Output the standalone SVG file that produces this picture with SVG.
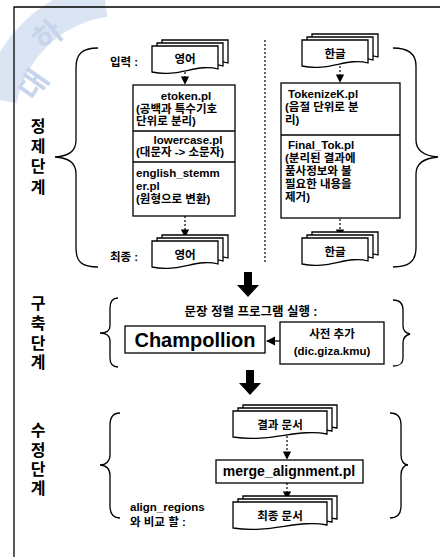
<svg xmlns="http://www.w3.org/2000/svg" width="440" height="559" viewBox="0 0 440 559">
<style>
.t{font-family:"Liberation Sans","Noto Sans CJK KR",sans-serif;font-weight:bold;font-size:11.5px;fill:#000}
.c{text-anchor:middle}
.big{font-size:16px}
.s12{font-size:11.5px}
.s13{font-size:12.5px}
.s14{font-size:14px}
.s20{font-size:20px}
.ln{fill:none;stroke:#000;stroke-width:1.3}
.box{fill:#fff;stroke:#000;stroke-width:1.3}
.dash{fill:none;stroke:#000;stroke-width:1.2;stroke-dasharray:2,2}
.wm{font-family:"Noto Sans CJK KR",sans-serif;font-weight:bold;font-size:30px;fill:#b9cbe8}
</style>
<defs>
<marker id="ah" viewBox="0 0 10 10" refX="9" refY="5" markerWidth="7" markerHeight="7" orient="auto"><path d="M0,0 L10,5 L0,10 Z" fill="#000"/></marker>
<path id="ds" d="M0,0 H66 V23 C46,17 26,32 0,26 Z"/>
<path id="dl" d="M0,0 H94 V23 C66,17 36,32 0,26 Z"/>
<g id="stackS"><use href="#ds" x="10" y="-6" class="box"/><use href="#ds" x="5" y="-3" class="box"/><use href="#ds" class="box"/></g>
<g id="stackL"><use href="#dl" x="10" y="-6" class="box"/><use href="#dl" x="5" y="-3" class="box"/><use href="#dl" class="box"/></g>
<path id="bigarrow" d="M-4,0 H4 V13 H11 L0,25 L-11,13 H-4 Z" fill="#000"/>
</defs>

<g id="watermark" opacity="0.8">
<path d="M0,100 A125,125 0 0 1 105,0" fill="none" stroke="#d3def1" stroke-width="34"/>
<text class="wm" transform="translate(34,102) rotate(-55)">대</text>
<text class="wm" transform="translate(44,52) rotate(-40)">하</text>
</g>

<g id="frame"><path class="ln" d="M14,557 V7 H440" stroke-width="1.5"/></g>

<g id="stage-labels">
<text class="t big c" x="38" y="132">정</text>
<text class="t big c" x="38" y="152">제</text>
<text class="t big c" x="38" y="172">단</text>
<text class="t big c" x="38" y="193">계</text>
<text class="t big c" x="38" y="309">구</text>
<text class="t big c" x="38" y="329">축</text>
<text class="t big c" x="38" y="349">단</text>
<text class="t big c" x="38" y="368">계</text>
<text class="t big c" x="38" y="436">수</text>
<text class="t big c" x="38" y="456">정</text>
<text class="t big c" x="38" y="475">단</text>
<text class="t big c" x="38" y="494">계</text>
</g>

<g id="braces">
<path class="ln" d="M98,48 C82,48 76,54 76,68 V140 C76,152 68,156 55,157 C68,158 76,162 76,174 V248 C76,262 82,267 98,267"/>
<path class="ln" d="M393,48 C408,48 416,54 416,66 V140 C416,152 426,156 438,157 C426,158 416,162 416,174 V248 C416,262 408,267 393,267"/>
<path class="ln" d="M118,298 C112,298 110,302 110,308 V326 C110,331 106,333 100,333 C106,333 110,336 110,341 V358 C110,364 112,367 118,367"/>
<path class="ln" d="M393,300 C400,300 403,304 403,310 V326 C403,331 406,333 410,334 C406,335 403,338 403,343 V358 C403,364 400,366 393,366"/>
<path class="ln" d="M120,413 C113,413 110,417 110,425 V455 C110,461 106,465 100,465 C106,465 110,469 110,475 V506 C110,514 113,518 120,518"/>
<path class="ln" d="M390,413 C398,413 401,417 401,425 V455 C401,461 404,465 408,465 C404,465 401,469 401,475 V506 C401,514 398,518 390,518"/>
</g>

<g id="connectors">
<line class="dash" x1="265" y1="40" x2="265" y2="262"/>
<line class="dash" x1="185" y1="72" x2="185" y2="84" marker-end="url(#ah)"/>
<line class="dash" x1="185" y1="216" x2="185" y2="237" marker-end="url(#ah)"/>
<line class="dash" x1="340" y1="66" x2="340" y2="82" marker-end="url(#ah)"/>
<line class="dash" x1="340" y1="219" x2="340" y2="237" marker-end="url(#ah)"/>
<use href="#bigarrow" x="248" y="272"/>
<use href="#bigarrow" x="250" y="370"/>
<line class="ln" x1="280" y1="341" x2="267" y2="341" marker-end="url(#ah)"/>
<line class="dash" x1="287" y1="436" x2="287" y2="459" marker-end="url(#ah)"/>
<line class="dash" x1="287" y1="483" x2="287" y2="499" marker-end="url(#ah)"/>
</g>

<g id="en-input">
<text class="t" x="110" y="66">입력 :</text>
<use href="#stackS" x="152" y="46"/>
<text class="t c" x="185" y="63">영어</text>
</g>

<g id="en-box">
<rect class="box" x="133" y="85" width="102" height="131"/>
<line class="ln" x1="133" y1="131" x2="235" y2="131"/>
<line class="ln" x1="133" y1="162" x2="235" y2="162"/>
<text class="t c" x="186" y="100">etoken.pl</text>
<text class="t" x="136" y="113">(공백과 특수기호</text>
<text class="t" x="136" y="125">단위로 분리)</text>
<text class="t c" x="188" y="144">lowercase.pl</text>
<text class="t" x="136" y="156">(대문자 -&gt; 소문자)</text>
<text class="t" x="136" y="177">english_stemm</text>
<text class="t" x="136" y="190">er.pl</text>
<text class="t" x="136" y="203">(원형으로 변환)</text>
</g>

<g id="en-final">
<text class="t" x="110" y="261">최종 :</text>
<use href="#stackS" x="152" y="241"/>
<text class="t c" x="185" y="259">영어</text>
</g>

<g id="ko-input">
<use href="#stackS" x="302" y="40"/>
<text class="t c" x="335" y="58">한글</text>
</g>

<g id="ko-box">
<rect class="box" x="281" y="83" width="119" height="135"/>
<line class="ln" x1="281" y1="135" x2="400" y2="135"/>
<text class="t" x="288" y="98">TokenizeK.pl</text>
<text class="t" x="285" y="111">(음절 단위로 분</text>
<text class="t" x="285" y="124">리)</text>
<text class="t" x="288" y="149">Final_Tok.pl</text>
<text class="t" x="285" y="162">(분리된 결과에</text>
<text class="t" x="285" y="175">품사정보와 불</text>
<text class="t" x="285" y="188">필요한 내용을</text>
<text class="t" x="285" y="201">제거)</text>
</g>

<g id="ko-final">
<use href="#stackS" x="302" y="238"/>
<text class="t c" x="335" y="256">한글</text>
</g>

<g id="align-title"><text class="t c s13" x="251" y="316">문장 정렬 프로그램 실행 :</text></g>

<g id="champollion">
<rect class="box" x="125" y="326" width="140" height="27" stroke-width="1.6"/>
<text class="t c s20" x="195" y="347">Champollion</text>
</g>

<g id="dict">
<rect class="box" x="280" y="322" width="104" height="42"/>
<text class="t c" x="332" y="338">사전 추가</text>
<text class="t c" x="332" y="355">(dic.giza.kmu)</text>
</g>

<g id="result-doc">
<use href="#stackL" x="233" y="411"/>
<text class="t c" x="280" y="429">결과 문서</text>
</g>

<g id="merge">
<rect class="box" x="216" y="460" width="147" height="23"/>
<text class="t c s14" x="289" y="476">merge_alignment.pl</text>
</g>

<g id="final-doc">
<text class="t s12" x="130" y="511">align_regions</text>
<text class="t s12" x="130" y="526">와 비교 할 :</text>
<use href="#stackL" x="233" y="502"/>
<text class="t c" x="280" y="520">최종 문서</text>
</g>
</svg>
